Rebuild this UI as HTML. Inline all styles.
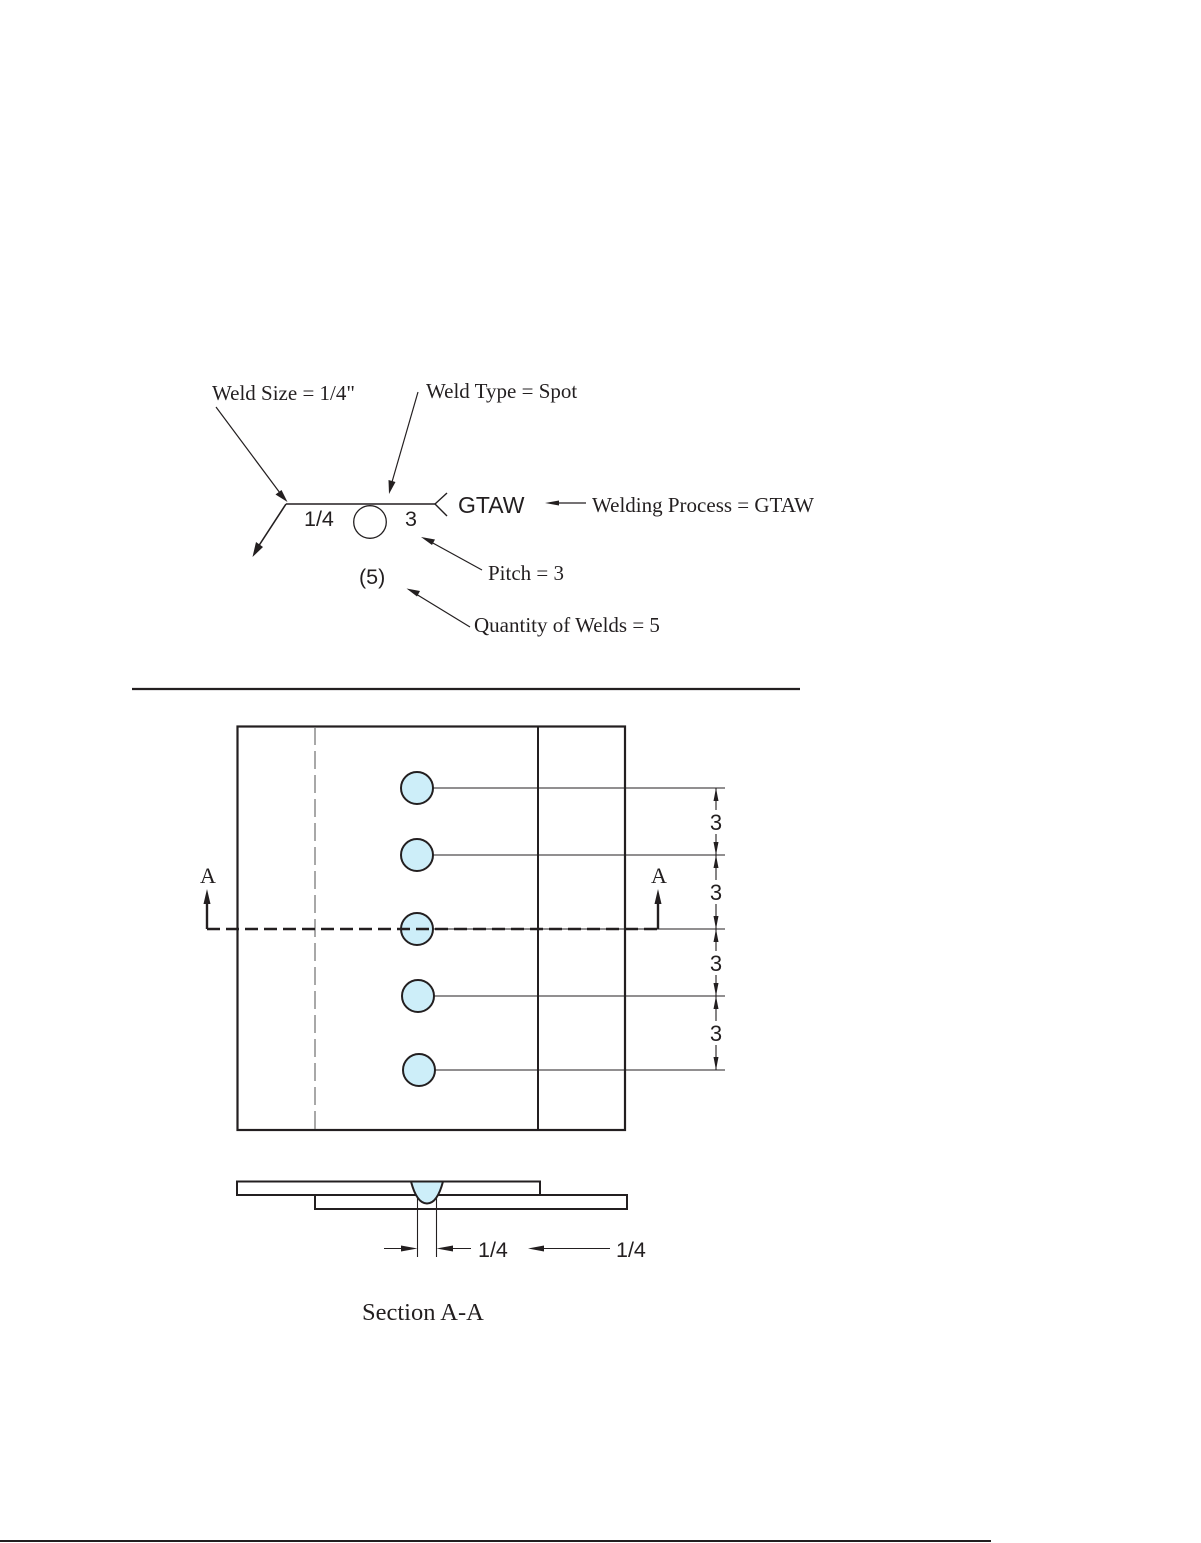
<!DOCTYPE html>
<html>
<head>
<meta charset="utf-8">
<style>
  html, body { margin: 0; padding: 0; background: #ffffff; }
  body { width: 1201px; height: 1543px; overflow: hidden; }
  svg { display: block; }
  .serif { font-family: "Liberation Serif", "Times New Roman", serif; fill: #231f20; }
  .sans { font-family: "Liberation Sans", Arial, sans-serif; fill: #231f20; }
</style>
</head>
<body>
<svg width="1201" height="1543" viewBox="0 0 1201 1543" xmlns="http://www.w3.org/2000/svg">
  <g stroke="#231f20" fill="none" stroke-linecap="butt">
    <!-- ===== Weld symbol ===== -->
    <line x1="286" y1="504" x2="435" y2="504" stroke-width="1.6"/>
    <line x1="286" y1="504" x2="258" y2="547" stroke-width="1.6"/>
    <line x1="435" y1="504" x2="447" y2="493" stroke-width="1.4"/>
    <line x1="435" y1="504" x2="447" y2="516" stroke-width="1.4"/>
    <circle cx="370" cy="522" r="16.3" stroke-width="1.3"/>

    <!-- leaders -->
    <line x1="216" y1="407" x2="280" y2="493" stroke-width="1.2"/>
    <line x1="418" y1="392" x2="392" y2="482" stroke-width="1.2"/>
    <line x1="586" y1="503" x2="556" y2="503" stroke-width="1.2"/>
    <line x1="482" y1="570" x2="431" y2="542" stroke-width="1.2"/>
    <line x1="470" y1="627" x2="416" y2="594" stroke-width="1.2"/>

    <!-- ===== separator ===== -->
    <line x1="132" y1="689" x2="800" y2="689" stroke-width="2.2"/>

    <!-- ===== Plan view ===== -->
    <rect x="237.5" y="726.5" width="387.5" height="403.5" stroke-width="2.2"/>
    <line x1="538" y1="726" x2="538" y2="1130" stroke-width="2"/>
    <line x1="315" y1="727" x2="315" y2="1130" stroke="#7a7a7a" stroke-width="1.3" stroke-dasharray="18,6"/>

    <!-- extension lines -->
    <line x1="433" y1="788" x2="725" y2="788" stroke-width="1.1"/>
    <line x1="433" y1="855" x2="725" y2="855" stroke-width="1.1"/>
    <line x1="433" y1="929" x2="725" y2="929" stroke-width="1.1"/>
    <line x1="434" y1="996" x2="725" y2="996" stroke-width="1.1"/>
    <line x1="435" y1="1070" x2="725" y2="1070" stroke-width="1.1"/>

    <!-- dimension line segments -->
    <line x1="716" y1="788" x2="716" y2="810" stroke-width="1.1"/>
    <line x1="716" y1="834" x2="716" y2="855" stroke-width="1.1"/>
    <line x1="716" y1="855" x2="716" y2="880" stroke-width="1.1"/>
    <line x1="716" y1="904" x2="716" y2="929" stroke-width="1.1"/>
    <line x1="716" y1="929" x2="716" y2="951" stroke-width="1.1"/>
    <line x1="716" y1="975" x2="716" y2="996" stroke-width="1.1"/>
    <line x1="716" y1="996" x2="716" y2="1021" stroke-width="1.1"/>
    <line x1="716" y1="1045" x2="716" y2="1070" stroke-width="1.1"/>

    <!-- section A-A cutting line -->
    <polyline points="207,896 207,929" stroke-width="2.4"/>
    <polyline points="658,896 658,929" stroke-width="2.4"/>

    <!-- ===== Section view ===== -->
    <rect x="237" y="1181.5" width="303" height="13.5" stroke-width="2"/>
    <rect x="315" y="1195" width="312" height="14" stroke-width="2"/>
    <line x1="417.5" y1="1198" x2="417.5" y2="1257" stroke-width="1.1"/>
    <line x1="436.5" y1="1198" x2="436.5" y2="1257" stroke-width="1.1"/>
    <line x1="384" y1="1248.5" x2="405" y2="1248.5" stroke-width="1.1"/>
    <line x1="450" y1="1248.5" x2="471" y2="1248.5" stroke-width="1.1"/>
    <line x1="540" y1="1248.5" x2="610" y2="1248.5" stroke-width="1.1"/>

    <!-- bottom rule -->
    <line x1="0" y1="1541" x2="991" y2="1541" stroke-width="2"/>
  </g>

  <!-- filled shapes -->
  <g fill="#cdeef9" stroke="#231f20" stroke-width="2">
    <circle cx="417" cy="788" r="16"/>
    <circle cx="417" cy="855" r="16"/>
    <circle cx="417" cy="929" r="16"/>
    <circle cx="418" cy="996" r="16"/>
    <circle cx="419" cy="1070" r="16"/>
    <path d="M411,1181.5 C414,1193 419,1203.5 427,1203.5 C435,1203.5 440,1193 443,1181.5 Z"/>
  </g>
  <!-- dashed section line over circle -->
  <line x1="207" y1="929" x2="658" y2="929" stroke="#231f20" stroke-width="2.4" stroke-dasharray="13,6"/>

  <!-- arrowheads -->
  <g fill="#231f20" stroke="none">
    <polygon points="252.5,557 256,542 263,547"/>
    <polygon points="287.5,502 275.5,494.5 281.5,490"/>
    <polygon points="389,494 388.5,480 395.5,482"/>
    <polygon points="545,503 559,500.5 559,505.5"/>
    <polygon points="421,537 435,539.5 432,545"/>
    <polygon points="406.5,588.5 420,591 417,596.5"/>

    <polygon points="207,889 203.5,904 210.5,904"/>
    <polygon points="658,889 654.5,904 661.5,904"/>

    <polygon points="716,788 713.5,801 718.5,801"/>
    <polygon points="716,855 713.5,842 718.5,842"/>
    <polygon points="716,855 713.5,868 718.5,868"/>
    <polygon points="716,929 713.5,916 718.5,916"/>
    <polygon points="716,929 713.5,942 718.5,942"/>
    <polygon points="716,996 713.5,983 718.5,983"/>
    <polygon points="716,996 713.5,1009 718.5,1009"/>
    <polygon points="716,1070 713.5,1057 718.5,1057"/>

    <polygon points="417.5,1248.5 401,1245.5 401,1251.5"/>
    <polygon points="436.5,1248.5 453,1245.5 453,1251.5"/>
    <polygon points="528,1248.5 544,1245.5 544,1251.5"/>
  </g>

  <!-- ===== Text ===== -->
  <text class="serif" x="212" y="400" font-size="21">Weld Size = 1/4"</text>
  <text class="serif" x="426" y="398" font-size="21">Weld Type = Spot</text>
  <text class="serif" x="592" y="512" font-size="21">Welding Process = GTAW</text>
  <text class="serif" x="488" y="580" font-size="21">Pitch = 3</text>
  <text class="serif" x="474" y="632" font-size="21">Quantity of Welds = 5</text>

  <text class="sans" x="304" y="526" font-size="21.5">1/4</text>
  <text class="sans" x="405" y="526" font-size="21.5">3</text>
  <text class="sans" x="458" y="513" font-size="23">GTAW</text>
  <text class="sans" x="359" y="584" font-size="21.5">(5)</text>

  <text class="serif" x="208" y="883" font-size="22" text-anchor="middle">A</text>
  <text class="serif" x="659" y="883" font-size="22" text-anchor="middle">A</text>

  <text class="sans" x="716" y="830" font-size="22" text-anchor="middle">3</text>
  <text class="sans" x="716" y="900" font-size="22" text-anchor="middle">3</text>
  <text class="sans" x="716" y="971" font-size="22" text-anchor="middle">3</text>
  <text class="sans" x="716" y="1041" font-size="22" text-anchor="middle">3</text>

  <text class="sans" x="478" y="1257" font-size="21.5">1/4</text>
  <text class="sans" x="616" y="1257" font-size="21.5">1/4</text>

  <text class="serif" x="362" y="1320" font-size="24.5">Section A-A</text>
</svg>
</body>
</html>
